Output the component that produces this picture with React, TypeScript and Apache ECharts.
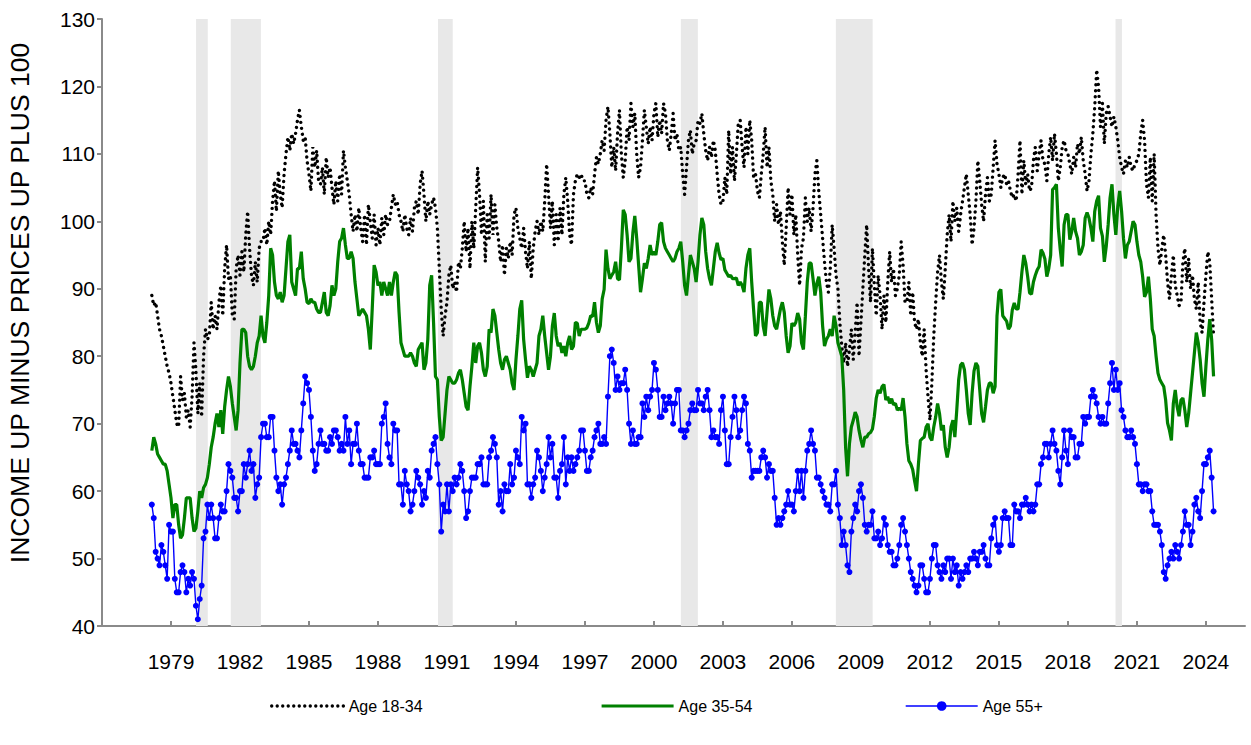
import React, { useEffect, useRef } from "react";
import * as echarts from "echarts";

// Monthly data, March 1978 .. May 2024 (one row per year)
const START_YEAR = 1978;
const START_MONTH = 3; // March

const age1834: number[] = [
  89, 87.5, 88, 86, 84, 83, 81.5, 80, 78.5, 77.5, // 1978 Mar-Dec
  76, 74, 72, 70, 69.5, 77, 73.5, 74.5, 71, 72, 69.5, 74, // 1979
  82, 78, 71.5, 76, 71, 80, 84, 82.5, 83, 88, 84, 86, // 1980
  84, 88, 90.5, 86, 93, 96.5, 91.5, 92, 86, 85.5, 93, 95, // 1981
  92, 95.5, 92.5, 98, 101.5, 96, 92, 90.5, 94, 91, 96, 97, // 1982
  97, 99, 96.5, 100, 98, 103, 106, 101.5, 107.5, 104, 102, 107, // 1983
  110, 112.5, 110.5, 113, 111.5, 113, 115, 116.5, 114, 112, 112.5, 109, // 1984
  107, 104.5, 111, 108, 110.5, 106, 105.5, 108, 104, 109.5, 106.5, 108, // 1985
  105, 102.5, 106, 103, 107, 104, 110.5, 108, 106, 104, 101, 98.5, // 1986
  101, 98.5, 102, 99, 97, 101, 96.5, 102.5, 100, 97.5, 101, 96.5, // 1987
  99, 96.5, 100.5, 98, 101, 99.5, 100, 102, 104, 102.5, 103, 101, // 1988
  100, 98.5, 101, 99, 98, 100.5, 98.5, 102, 103, 101, 105.5, 107.5, // 1989
  104, 100, 103, 101, 102.5, 103.5, 102, 99, 93, 87, 83, 86, // 1990
  88, 92, 93.5, 90, 91, 89.5, 94, 93, 96, 100, 95.5, 99, // 1991
  93, 100, 96, 102, 108, 104, 98, 103, 94, 101, 97.5, 104, // 1992
  98, 102.5, 99, 97, 94, 96.5, 92, 96, 94.5, 97, 95, 101, // 1993
  102, 99, 97.5, 96, 99, 95.5, 93, 97, 91.5, 96, 98.5, 100, // 1994
  98, 100, 98.5, 103, 108.5, 104, 99, 103, 96.5, 101, 97, 102, // 1995
  98, 104, 106.5, 103, 98, 96.5, 104, 106, 107, 106.5, 107, 106, // 1996
  106, 104, 103.5, 105, 104, 107, 109.5, 108.5, 110, 112, 110.5, 115, // 1997
  117, 113, 108, 111, 107.5, 113, 116.5, 110, 106.5, 109, 114, 112, // 1998
  117.5, 114, 116, 110, 106.5, 108, 112, 116.5, 114, 111.5, 114, 112, // 1999
  116, 117.5, 112.5, 115, 113, 117.5, 116, 112, 110.5, 113, 116, 112, // 2000
  113, 110.5, 111, 107, 104, 108, 112, 113.5, 110, 111.5, 112, 115, // 2001
  114.5, 116, 113, 110.5, 109, 111, 109.5, 112, 110.5, 107, 104, 102.5, // 2002
  103, 106.5, 104, 113.5, 107, 111, 106, 110, 114.5, 115, 111, 108, // 2003
  114, 110, 115, 112, 106.5, 107, 104.5, 103.5, 107, 110, 114, 108, // 2004
  111, 106, 104, 100, 102.5, 99.5, 101.5, 97, 93.5, 99, 105, 101, // 2005
  104, 98, 101, 95, 90.5, 96, 97.5, 103.5, 100, 102, 98.5, 102, // 2006
  107, 109, 104.5, 101, 97.5, 94, 91, 89.5, 93, 99.5, 96, 92, // 2007
  90, 85, 81.5, 79, 82, 78.5, 81, 84, 79.5, 83.5, 88, 80, // 2008
  85, 90, 95, 99.5, 93, 88, 96, 90.5, 86, 92, 89, 84, // 2009
  89, 85, 91, 95.5, 91, 93, 89, 90, 92, 97, 93.5, 88, // 2010
  88, 91, 86, 89.5, 85, 84, 85.5, 82, 80, 84, 78, 74, // 2011
  70.5, 76, 83, 88, 92.5, 95, 91, 88.5, 93, 98, 101, 97, // 2012
  103, 100, 102, 98.5, 101, 103, 105, 107, 104, 101, 96.5, 99, // 2013
  103, 109, 106, 102.5, 100, 104, 106.5, 103, 104, 108, 112, 108.5, // 2014
  107, 105, 106.5, 107, 105.5, 106, 104.5, 103.5, 104, 103, 107, 112, // 2015
  104, 109, 105.5, 107, 104.5, 105, 109, 111, 107.5, 110, 112, 109, // 2016
  108.5, 106, 110, 112.5, 109, 113, 110, 106, 108, 111, 112, 110.5, // 2017
  110, 108.5, 107, 109.5, 108, 111.5, 110, 112.5, 109, 107, 104.5, 106, // 2018
  110, 113, 117, 122.5, 120, 114, 117.5, 111.5, 116, 117, 115.5, 114, // 2019
  115.5, 114, 112, 109.5, 108, 107, 109, 108, 109.5, 108, 107.5, 108.5, // 2020
  109, 110, 113, 115, 112, 105.5, 103.5, 109.5, 103, 110, 101, 96, // 2021
  93.5, 96, 98, 95, 91, 88.5, 92, 95, 90.5, 89, 87.5, 88, // 2022
  94, 96, 91, 94.5, 90, 92, 88.5, 87, 91, 85, 83.5, 88, // 2023
  92, 95.5, 94, 88.5, 83, // 2024 Jan-May
];

const age3554: number[] = [
  66, 68, 67, 65.5, 65, 64.5, 64, 64, 63, 61, // 1978 Mar-Dec
  59, 56, 58, 58, 55, 53, 53.5, 56, 59, 59, 59, 56, // 1979
  54, 54.5, 57, 60, 59, 60.5, 61, 62, 64, 66.5, 68, 70, // 1980
  71.5, 69.5, 72, 68.5, 72.5, 75, 77, 75.5, 73, 71, 69, 72, // 1981
  79, 84, 84, 83.5, 80, 78.5, 78, 78.5, 80, 82, 83, 86, // 1982
  83, 82, 85, 89, 96, 95, 91, 89, 88.5, 89.5, 88, 89, // 1983
  93, 97, 98, 91, 90, 89, 93, 93, 95.5, 91.5, 90, 88, // 1984
  87.8, 88.5, 88, 88, 87, 86.5, 86.5, 88, 89.5, 86.5, 86, 87.5, // 1985
  90.5, 89, 90, 94, 97, 97.5, 99, 96.5, 94.5, 94.5, 95.5, 94.5, // 1986
  91, 88.5, 86, 86.5, 87, 86.5, 86, 84, 81, 87, 93.5, 92.5, // 1987
  90.5, 91, 89, 91, 90, 89, 91, 89, 91, 92.5, 92, 86.5, // 1988
  82, 81, 80, 80, 80, 80.5, 80, 79, 78.5, 81, 81.5, 82, // 1989
  78, 79, 82.5, 90.5, 92, 85, 77, 76.5, 71, 67.5, 68, 71.5, // 1990
  75, 77, 76.5, 76, 76, 76.5, 77.5, 78, 76.5, 74.5, 72.5, 72, // 1991
  75.5, 78.5, 82, 79, 81.5, 82, 80.5, 78, 77, 78.5, 84, 83.5, // 1992
  87, 86, 83.5, 81, 79, 78, 79.5, 80, 79, 78, 76, 75, // 1993
  79.5, 83, 87, 88.3, 82.5, 79.5, 76.8, 78.5, 78, 77, 78, 79, // 1994
  83, 84, 86, 83, 80.5, 78, 80, 84.5, 86.4, 83, 81.5, 82, // 1995
  80.5, 81.5, 80, 82, 83, 81, 81.5, 85, 84.9, 83, 84, 84, // 1996
  84, 84.2, 84.9, 86, 85.9, 88, 85, 83.5, 84.5, 88.5, 89.9, 95.8, // 1997
  93, 91.5, 92, 92.5, 94, 91.5, 91.3, 96, 101.7, 101, 98, 94, // 1998
  94.5, 98.3, 100.8, 97.5, 93.5, 89.5, 91.5, 93.8, 93, 94.5, 96.5, 95, // 1999
  95.5, 95, 97, 99.5, 99.8, 97, 96, 95.5, 95, 94.5, 94, 94.5, // 2000
  95.5, 96, 97, 94, 90.5, 89, 92, 95, 94, 93, 91, 94, // 2001
  98, 100.5, 99.5, 95.5, 93, 91.5, 90.5, 93, 95.5, 96.8, 95.3, 94.3, // 2002
  94.5, 92.8, 92.3, 91.8, 92, 91.5, 91.5, 91.6, 90.5, 91, 90.5, 89.5, // 2003
  93, 95, 96, 91, 86.9, 83, 83.5, 88, 88, 84.5, 83, 86.5, // 2004
  89.9, 88.5, 86, 84.5, 84, 85.5, 87, 88, 86.5, 83, 80.5, 81.5, // 2005
  84.9, 84.5, 85, 86.4, 85.5, 82, 81, 85.9, 91, 93.8, 93.8, 91.5, // 2006
  89, 90.8, 91.8, 89.5, 84.5, 81.5, 82.5, 83, 84, 83, 86, 84.5, // 2007
  82, 81, 80, 75, 66.5, 62.2, 67, 69.5, 70.5, 71.7, 71, 69, // 2008
  67.6, 66.5, 68, 68, 68.5, 68.7, 69.2, 71.1, 73.8, 75, 74.5, 75.5, // 2009
  75.8, 73.5, 74, 73, 73.7, 72.8, 73, 72, 72.3, 72, 73.8, 71, // 2010
  67, 64.5, 64, 63.2, 61.5, 60, 64, 67.5, 67.8, 68, 69.5, 70, // 2011
  68, 67.5, 69.5, 71, 73, 71.5, 69, 69.8, 66.5, 65, 66.5, 69.5, // 2012
  70.5, 68, 72, 76.5, 78.7, 79, 78, 75, 71.5, 69.8, 74.5, 77.8, // 2013
  79, 78.5, 75, 71.5, 70.2, 72.5, 75, 76, 76, 74.5, 75.5, 86, // 2014
  89.5, 89.9, 86, 85.6, 85.2, 84, 84.5, 86.9, 87.9, 87, 87, 89.5, // 2015
  92.5, 95, 93.8, 91.8, 89.4, 89.2, 91, 92, 92.8, 93.3, 95.8, 95.3, // 2016
  94.4, 91.8, 93, 95, 104.7, 105, 105.5, 99, 95.8, 93.3, 99.5, 101, // 2017
  101, 97.3, 98.5, 100.5, 98.5, 97.5, 95, 95.5, 96.5, 100.5, 101.3, 100.5, // 2018
  99, 97, 101.5, 103, 103.8, 99, 97.8, 94, 96.3, 99.5, 103.5, 105.5, // 2019
  101, 98, 102.2, 104.5, 101.5, 97.5, 94.5, 96.5, 97, 98.5, 100, 99.5, // 2020
  97, 95, 94, 91.8, 88.8, 89.5, 91.8, 88.5, 84, 83, 80, 77.5, // 2021
  76.5, 76, 75.5, 73.5, 70.1, 69, 67.5, 73, 75, 72.5, 71.1, 73.5, // 2022
  73.8, 72, 69.5, 71.5, 74.5, 77.5, 80.5, 83.5, 82, 79.5, 76, 74, // 2023
  78.5, 82.5, 85.5, 82.5, 77, // 2024 Jan-May
];

const age55: number[] = [
  58, 56, 51, 50, 49, 52, 51, 49, 47, 55, // 1978 Mar-Dec
  54, 54, 47, 45, 45, 48, 49, 48, 45, 47, 46, 48, // 1979
  47, 43, 41, 44, 46, 53, 54, 58, 56, 58, 56, 53, // 1980
  53, 56, 58, 57, 57, 60, 64, 63, 62, 59, 59, 57, // 1981
  60, 60, 64, 62, 64, 66, 63, 64, 59, 61, 62, 68, // 1982
  70, 70, 68, 68, 71, 71, 66, 62, 60, 61, 58, 61, // 1983
  62, 64, 66, 69, 67, 67, 66, 65, 69, 73, 77, 76, // 1984
  75, 71, 66, 63, 64, 67, 69, 67, 67, 66, 66, 68, // 1985
  67, 69, 69, 68, 66, 67, 66, 71, 67, 69, 64, 67, // 1986
  67, 70, 66, 64, 64, 62, 62, 62, 65, 65, 66, 64, // 1987
  64, 64, 70, 71, 73, 67, 65, 64, 70, 69, 69, 61, // 1988
  61, 58, 63, 61, 60, 57, 58, 60, 63, 62, 61, 58, // 1989
  60, 59, 63, 62, 66, 67, 68, 64, 61, 54, 58, 57, // 1990
  61, 57, 61, 60, 62, 61, 62, 64, 63, 60, 56, 57, // 1991
  60, 62, 62, 62, 64, 64, 65, 61, 61, 61, 65, 66, // 1992
  68, 67, 65, 58, 60, 57, 61, 60, 60, 64, 61, 62, // 1993
  66, 65, 64, 71, 69, 70, 61, 61, 59, 61, 62, 66, // 1994
  65, 63, 60, 62, 64, 68, 65, 67, 62, 62, 59, 63, // 1995
  64, 68, 61, 65, 63, 65, 63, 64, 65, 66, 69, 69, // 1996
  66, 63, 63, 65, 66, 68, 69, 70, 67, 67, 68, 67, // 1997
  74, 80, 81, 79, 75, 77, 75, 76, 76, 78, 75, 70, // 1998
  67, 69, 67, 67, 68, 68, 73, 71, 74, 72, 74, 75, // 1999
  79, 78, 75, 71, 71, 74, 72, 73, 74, 73, 70, 73, // 2000
  75, 75, 69, 69, 68, 69, 70, 72, 73, 72, 72, 75, // 2001
  73, 73, 72, 74, 75, 72, 68, 69, 68, 68, 67, 72, // 2002
  74, 69, 64, 64, 68, 71, 74, 72, 68, 69, 72, 74, // 2003
  73, 67, 66, 62, 63, 63, 63, 63, 65, 66, 65, 62, // 2004
  64, 63, 63, 59, 55, 56, 55, 56, 57, 58, 60, 58, // 2005
  58, 57, 60, 63, 60, 63, 59, 63, 66, 67, 69, 67, // 2006
  66, 62, 62, 61, 60, 59, 58, 58, 57, 61, 61, 63, // 2007
  58, 56, 52, 54, 52, 49, 48, 54, 56, 58, 57, 60, // 2008
  61, 59, 55, 54, 55, 55, 57, 53, 53, 54, 52, 53, // 2009
  56, 55, 52, 51, 51, 49, 49, 50, 52, 55, 56, 54, // 2010
  52, 50, 48, 47, 46, 45, 46, 49, 49, 47, 45, 45, // 2011
  47, 50, 52, 52, 49, 48, 47, 49, 48, 50, 50, 47, // 2012
  50, 48, 49, 46, 48, 47, 48, 49, 48, 50, 50, 51, // 2013
  50, 49, 51, 51, 52, 50, 49, 49, 53, 55, 56, 52, // 2014
  51, 52, 56, 57, 56, 56, 52, 52, 58, 57, 57, 56, // 2015
  58, 58, 59, 58, 57, 58, 57, 58, 61, 61, 64, 65, // 2016
  67, 67, 65, 67, 69, 67, 66, 63, 61, 65, 69, 66, // 2017
  64, 69, 68, 68, 65, 65, 67, 67, 71, 70, 71, 71, // 2018
  74, 75, 74, 73, 71, 70, 71, 70, 70, 73, 76, 79, // 2019
  75, 78, 75, 76, 72, 71, 69, 68, 68, 69, 68, 67, // 2020
  64, 61, 61, 60, 61, 61, 60, 60, 57, 55, 55, 55, // 2021
  54, 52, 48, 47, 49, 50, 51, 50, 52, 51, 50, 52, // 2022
  54, 57, 55, 55, 52, 54, 58, 59, 57, 56, 60, 64, // 2023
  64, 65, 66, 62, 57, // 2024 Jan-May
];

// Recession periods [start, end] as decimal years
const recessions: [number, number][] = [
  [1980.09, 1980.6],
  [1981.6, 1982.91],
  [1990.61, 1991.25],
  [2001.17, 2001.91],
  [2007.91, 2009.51],
  [2020.07, 2020.35],
];

const tickYears: number[] = [1979, 1982, 1985, 1988, 1991, 1994, 1997, 2000, 2003, 2006, 2009, 2012, 2015, 2018, 2021, 2024];

const BASE = 1976; // x axis origin (year)
const X_MAX = 49.7;

const toPoints = (arr: number[]) =>
  arr.map((v, i) => [START_YEAR - BASE + (START_MONTH - 1 + i) / 12, v]);

const FONT = "'Liberation Sans', Arial, sans-serif";

const legendBase = {
  top: 693,
  itemWidth: 72,
  itemHeight: 12,
  itemGap: 0,
  textStyle: { fontSize: 16, color: "#000", fontFamily: FONT },
};

export default function App() {
  const ref = useRef<HTMLDivElement>(null);
  useEffect(() => {
    if (!ref.current) return;
    const chart = echarts.init(ref.current, null, { renderer: "svg" });
    const tickVals = tickYears.map((y) => y - BASE);
    chart.setOption({
      animation: false,
      backgroundColor: "#fff",
      textStyle: { fontFamily: FONT },
      grid: { left: 102, right: 6, top: 19, bottom: 119, containLabel: false },
      legend: [
        {
          ...legendBase,
          data: ["Age 18-34"],
          left: 265,
          itemStyle: { opacity: 0 },
          lineStyle: { color: "#000", width: 3.4, type: [0.01, 5.5], cap: "round" },
        },
        {
          ...legendBase,
          data: ["Age 35-54"],
          left: 595,
          itemStyle: { opacity: 0 },
          lineStyle: { color: "#008000", width: 3.2 },
        },
        { ...legendBase, data: ["Age 55+"], left: 900, lineStyle: { color: "#0000ff", width: 1.4 } },
      ],
      xAxis: {
        type: "value",
        min: 0,
        max: X_MAX,
        interval: 3,
        axisLine: { show: true, lineStyle: { color: "#8a8a8a", width: 2 } },
        axisTick: { show: true, inside: true, length: 5, customValues: tickVals, lineStyle: { color: "#8a8a8a", width: 2 } },
        axisLabel: {
          customValues: tickVals,
          margin: 25,
          fontSize: 21,
          color: "#000",
          fontFamily: FONT,
          formatter: (v: number) => {
            const r = Math.round(v);
            return Math.abs(v - r) < 1e-6 && r > 0 && r % 3 === 0 ? String(r + BASE) : "";
          },
        },
        splitLine: { show: false },
      },
      yAxis: {
        type: "value",
        min: 40,
        max: 130,
        interval: 10,
        axisLine: { show: true, lineStyle: { color: "#8a8a8a", width: 2 } },
        axisTick: { show: true, length: 5, lineStyle: { color: "#8a8a8a", width: 2 } },
        axisLabel: { fontSize: 21, color: "#000", margin: 7, fontFamily: FONT },
        splitLine: { show: false },
      },
      graphic: [
        {
          type: "text",
          x: 20,
          y: 303,
          rotation: Math.PI / 2,
          style: {
            text: "INCOME UP MINUS PRICES UP PLUS 100",
            font: `26.5px ${FONT}`,
            fill: "#000",
            textAlign: "center",
            textVerticalAlign: "middle",
          },
        },
      ],
      series: [
        {
          name: "recessions",
          type: "line",
          data: [],
          silent: true,
          z: 1,
          markArea: {
            silent: true,
            itemStyle: { color: "#e8e8e8" },
            data: recessions.map(([a, b]) => [{ xAxis: a - BASE }, { xAxis: b - BASE }]),
          },
        },
        {
          name: "Age 18-34",
          type: "line",
          data: toPoints(age1834),
          showSymbol: false,
          symbol: "none",
          z: 2,
          itemStyle: { color: "#000" },
          lineStyle: { color: "#000", width: 3.4, type: [0.01, 6], cap: "round" },
        },
        {
          name: "Age 35-54",
          type: "line",
          data: toPoints(age3554),
          showSymbol: false,
          symbol: "none",
          z: 3,
          itemStyle: { color: "#008000" },
          lineStyle: { color: "#008000", width: 3.2 },
        },
        {
          name: "Age 55+",
          type: "line",
          data: toPoints(age55),
          symbol: "circle",
          symbolSize: 6,
          showSymbol: true,
          z: 4,
          itemStyle: { color: "#0000ff" },
          lineStyle: { color: "#0000ff", width: 1.4 },
        },
      ],
    });
    return () => chart.dispose();
  }, []);
  return (
    <div
      ref={ref}
      style={{ position: "fixed", left: 0, top: 0, width: 1251, height: 745, background: "#fff" }}
    />
  );
}
